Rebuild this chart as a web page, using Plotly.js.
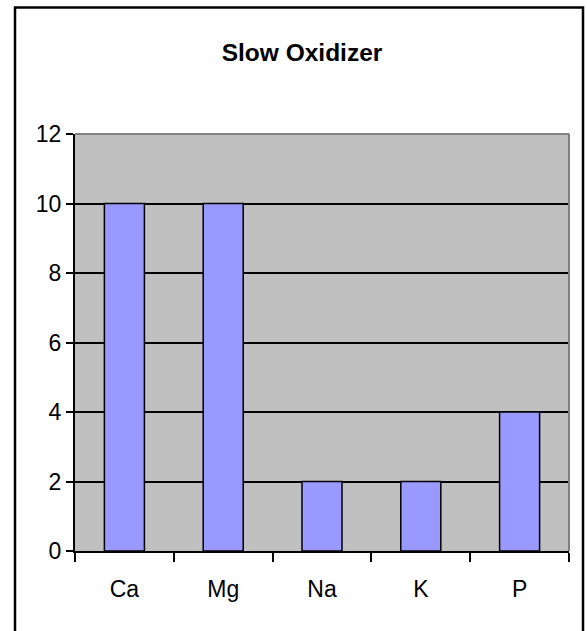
<!DOCTYPE html>
<html>
<head>
<meta charset="utf-8">
<script src="https://cdn.plot.ly/plotly-3.0.1.min.js"></script>
<style>html,body{margin:0;padding:0;background:#fff;}#chart{width:587px;height:631px;}</style>
</head>
<body>
<div id="chart"></div>
<script>
const categories = ["Ca", "Mg", "Na", "K", "P"];
const values = [10, 10, 2, 2, 4];
const yTicks = [0, 2, 4, 6, 8, 10, 12];
const chartTitle = "Slow Oxidizer";

const W = 587, H = 631, L = 75, R = 18, T = 134, B = 80;
const pw = W - L - R, ph = H - T - B;
const px = x => (x - L) / pw;
const py = y => (H - B - y) / ph;

const frame = `M ${px(15)},${py(660)} L ${px(15)},${py(7.5)} L ${px(583)},${py(7.5)} L ${px(583)},${py(660)}`;

Plotly.newPlot('chart', [{
  type: 'bar',
  x: categories,
  y: values,
  marker: {color: '#9999FF', line: {color: '#000000', width: 1.5}},
  hoverinfo: 'none'
}], {
  width: W, height: H,
  margin: {l: L, r: R, t: T, b: B, pad: 0},
  paper_bgcolor: '#FFFFFF',
  plot_bgcolor: '#C0C0C0',
  bargap: 0.595,
  showlegend: false,
  font: {family: '"Liberation Sans", Arial, sans-serif', color: '#000'},
  title: {
    text: '<b>' + chartTitle + '</b>',
    font: {size: 24.5, family: '"Liberation Sans", Arial, sans-serif', color: '#000'},
    x: px(302), xref: 'paper', xanchor: 'center',
    y: 1 - 52 / H, yref: 'container', yanchor: 'middle'
  },
  xaxis: {
    type: 'category',
    tickson: 'boundaries',
    ticks: 'outside', ticklen: 9, tickwidth: 2, tickcolor: '#000',
    ticklabelstandoff: 16,
    showline: true, linecolor: '#000', linewidth: 2,
    showgrid: false, zeroline: false,
    tickfont: {size: 23},
    fixedrange: true
  },
  yaxis: {
    range: [0, 12],
    tickvals: yTicks,
    ticks: 'outside', ticklen: 7, tickwidth: 2, tickcolor: '#000',
    showline: true, linecolor: '#000', linewidth: 2,
    showgrid: true, gridcolor: '#000', gridwidth: 2,
    zeroline: false,
    tickfont: {size: 23},
    fixedrange: true
  },
  shapes: [
    {type: 'line', xref: 'paper', yref: 'paper', x0: 0, x1: 1, y0: 1, y1: 1, line: {color: '#808080', width: 2}},
    {type: 'line', xref: 'paper', yref: 'paper', x0: 1, x1: 1, y0: 0, y1: 1, line: {color: '#808080', width: 2}},
    {type: 'path', xref: 'paper', yref: 'paper', path: frame, line: {color: '#000', width: 2.5}}
  ]
}, {staticPlot: true});
</script>
</body>
</html>
